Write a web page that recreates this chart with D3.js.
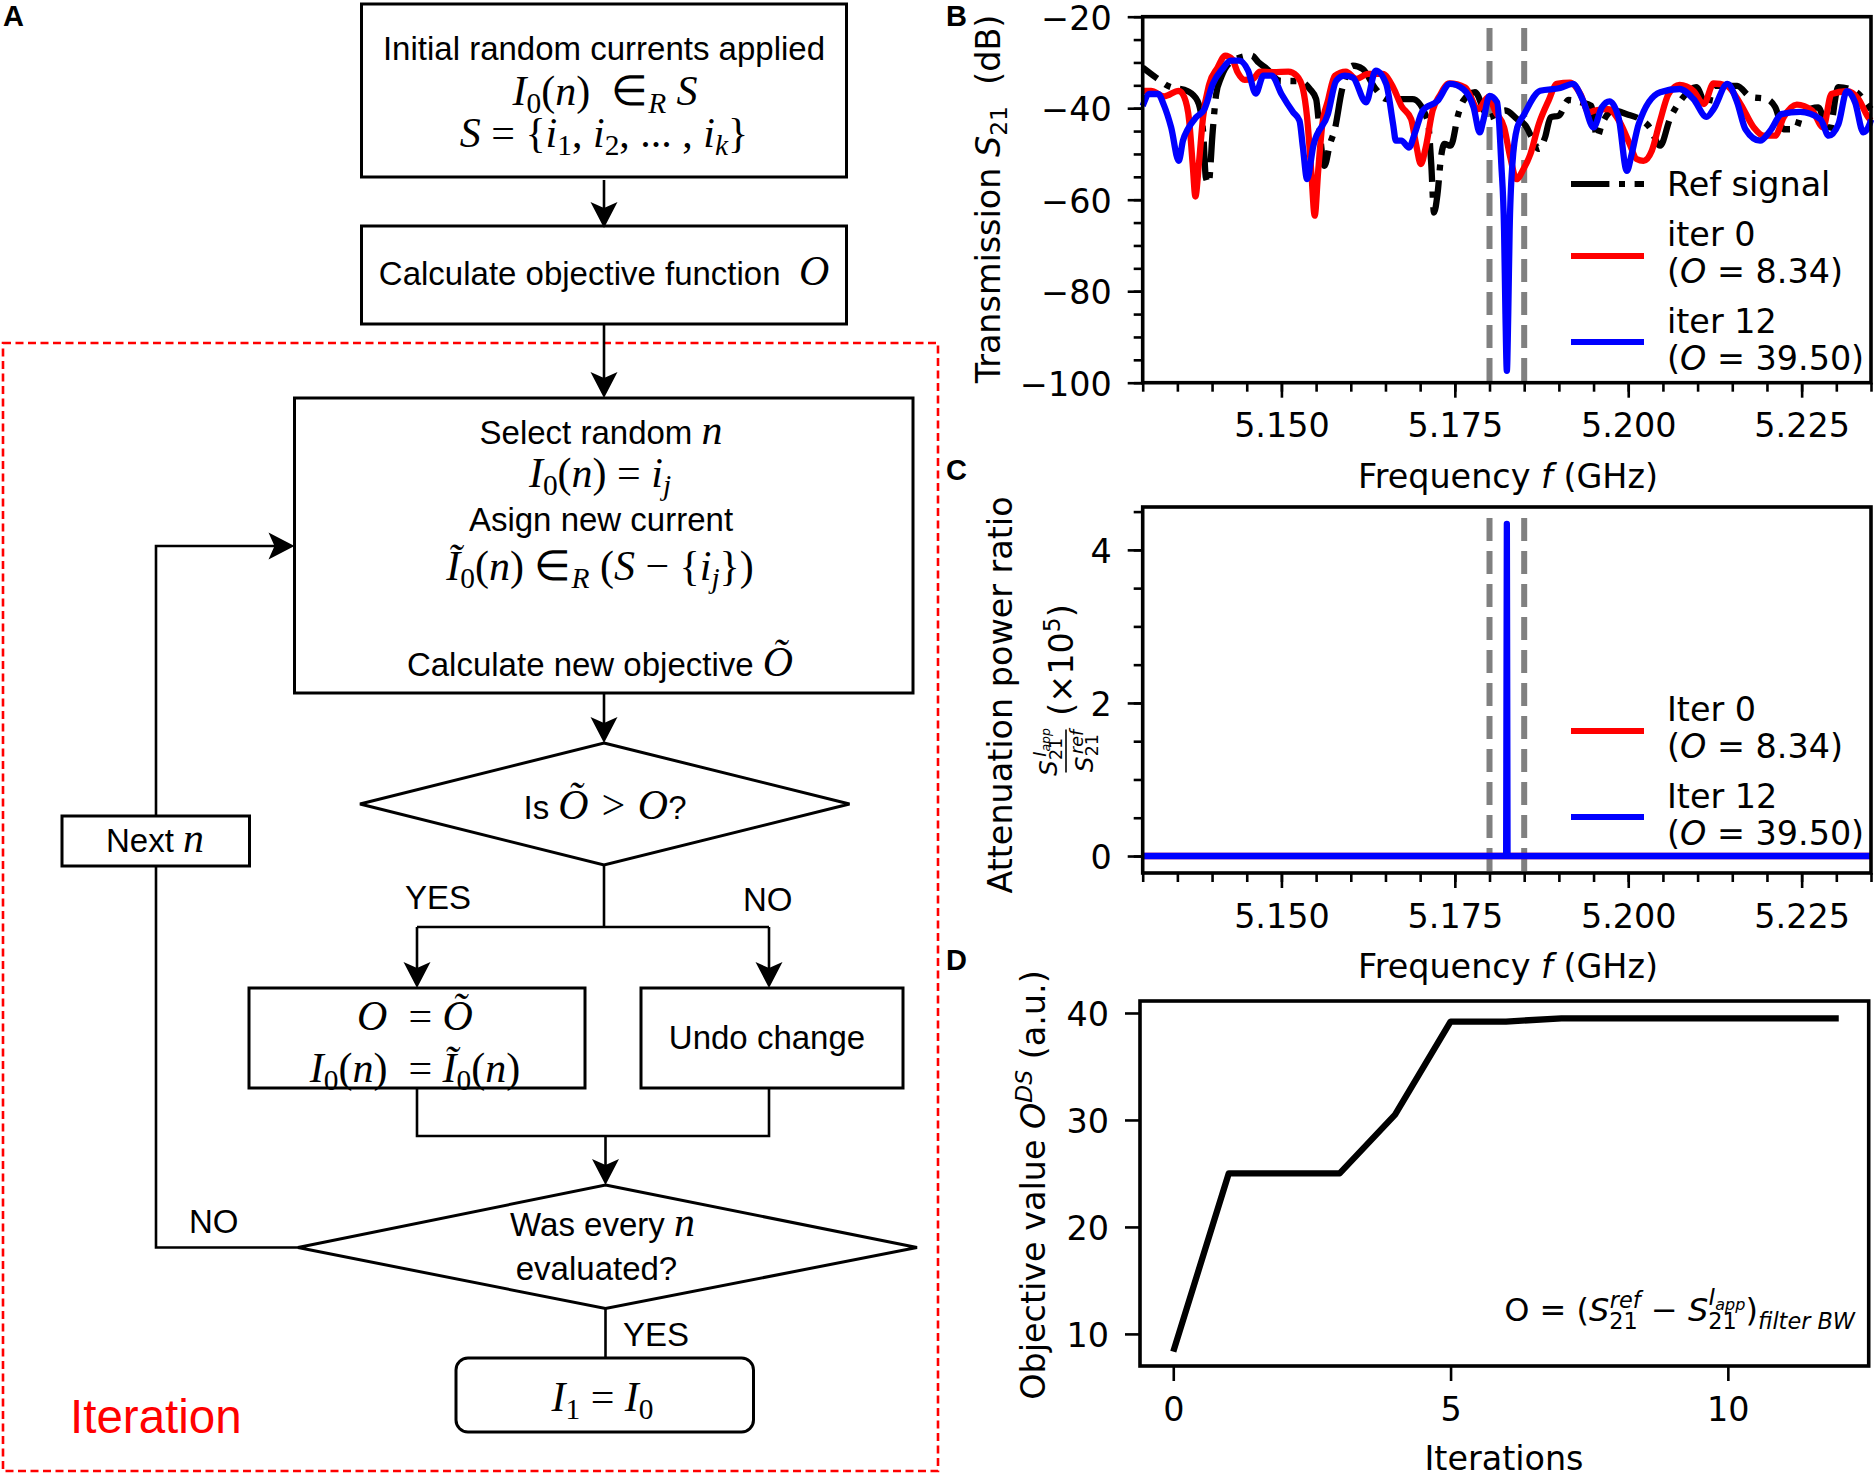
<!DOCTYPE html>
<html>
<head>
<meta charset="utf-8">
<script src="https://cdn.jsdelivr.net/npm/d3@7"></script>
<style>
body { margin: 0; background: #fff; }
text { white-space: pre; fill: #000; }
.axis path { display: none; }
.axis line { stroke: #000; stroke-width: 2.6; }
.axis text { font-family: "DejaVu Sans"; font-size: 33.4px; }
</style>
</head>
<body>
<div id="chart"></div>
<script>
// Panel B, transmission curves
var refFreq = [5.1300,5.1319,5.1336,5.1365,5.1379,5.1387,5.1391,5.1395,5.1401,5.1406,5.1413,5.1430,5.1457,5.1467,5.1479,5.1498,5.1526,5.1541,5.1550,5.1555,5.1562,5.1570,5.1577,5.1587,5.1603,5.1617,5.1636,5.1651,5.1689,5.1711,5.1716,5.1720,5.1725,5.1730,5.1735,5.1744,5.1755,5.1762,5.1779,5.1798,5.1823,5.1840,5.1852,5.1861,5.1871,5.1880,5.1888,5.1900,5.1914,5.1931,5.1947,5.1955,5.1962,5.1979,5.1998,5.2017,5.2031,5.2046,5.2060,5.2077,5.2098,5.2114,5.2123,5.2157,5.2176,5.2200,5.2212,5.2224,5.2241,5.2250,5.2274,5.2289,5.2303,5.2329,5.2346,5.2350];
var refDb = [-31.1,-33.3,-35.1,-36.3,-38.4,-44.9,-55.1,-56.4,-44.9,-36.9,-33.3,-29.6,-28.5,-30.0,-31.4,-34.0,-34.1,-35.8,-38.0,-44.9,-52.6,-47.8,-44.6,-36.2,-30.7,-31.4,-35.8,-38.0,-38.0,-42.7,-52.2,-62.8,-58.8,-50.8,-47.8,-48.2,-41.3,-38.4,-36.5,-42.0,-40.5,-42.4,-43.8,-46.4,-48.9,-46.4,-42.0,-41.6,-38.2,-38.7,-39.5,-46.4,-43.5,-40.5,-41.3,-42.4,-44.2,-48.2,-42.4,-38.0,-35.4,-39.8,-35.1,-35.1,-37.5,-38.0,-39.8,-44.6,-44.6,-41.3,-39.8,-45.6,-35.4,-36.5,-39.5,-40.2];

var iter0Freq = [5.1300,5.1312,5.1331,5.1352,5.1360,5.1367,5.1372,5.1376,5.1381,5.1387,5.1396,5.1408,5.1419,5.1429,5.1437,5.1447,5.1459,5.1469,5.1488,5.1510,5.1522,5.1531,5.1537,5.1543,5.1548,5.1553,5.1559,5.1567,5.1577,5.1593,5.1608,5.1625,5.1646,5.1661,5.1673,5.1687,5.1694,5.1701,5.1708,5.1718,5.1728,5.1742,5.1765,5.1784,5.1798,5.1809,5.1821,5.1830,5.1839,5.1849,5.1859,5.1871,5.1885,5.1897,5.1916,5.1931,5.1943,5.1952,5.1971,5.1988,5.2002,5.2012,5.2022,5.2034,5.2046,5.2058,5.2074,5.2094,5.2109,5.2123,5.2142,5.2162,5.2181,5.2195,5.2212,5.2224,5.2243,5.2265,5.2281,5.2293,5.2315,5.2332,5.2346,5.2350];
var iter0Db = [-36.2,-36.2,-37.4,-36.2,-37.6,-42.7,-52.2,-59.3,-52.2,-42.0,-34.7,-31.1,-28.5,-29.3,-32.2,-33.8,-33.6,-32.0,-32.1,-32.0,-32.9,-35.8,-42.0,-53.7,-63.5,-53.7,-43.5,-38.4,-32.9,-32.0,-33.6,-32.5,-32.5,-35.4,-39.5,-42.4,-47.8,-52.2,-48.6,-40.5,-37.3,-34.6,-35.5,-40.2,-37.6,-40.9,-44.2,-50.8,-55.5,-53.3,-50.0,-43.5,-38.4,-34.7,-34.4,-36.9,-40.9,-40.5,-40.2,-43.1,-47.8,-51.1,-51.5,-49.3,-42.7,-36.9,-34.9,-36.2,-39.1,-34.6,-35.1,-39.1,-44.2,-46.0,-46.0,-42.0,-39.2,-40.5,-44.2,-36.9,-36.3,-38.0,-42.0,-42.7];

var iter12Freq = [5.1300,5.1310,5.1322,5.1331,5.1341,5.1352,5.1358,5.1365,5.1377,5.1389,5.1401,5.1415,5.1427,5.1439,5.1452,5.1463,5.1474,5.1486,5.1500,5.1517,5.1526,5.1531,5.1537,5.1546,5.1567,5.1579,5.1591,5.1603,5.1622,5.1636,5.1651,5.1661,5.1665,5.1673,5.1684,5.1692,5.1704,5.1725,5.1743,5.1762,5.1777,5.1786,5.1791,5.1800,5.1811,5.1817,5.1821,5.1823,5.1825,5.1827,5.1829,5.1833,5.1840,5.1849,5.1873,5.1902,5.1920,5.1935,5.1950,5.1962,5.1973,5.1986,5.1998,5.2005,5.2015,5.2046,5.2074,5.2094,5.2113,5.2123,5.2143,5.2157,5.2169,5.2190,5.2205,5.2221,5.2248,5.2277,5.2289,5.2303,5.2315,5.2327,5.2339,5.2348,5.2350];
var iter12Db = [-39.5,-36.9,-36.9,-39.5,-44.2,-51.5,-47.1,-44.6,-42.0,-40.2,-34.7,-31.4,-29.6,-29.6,-31.8,-36.8,-32.9,-32.9,-36.9,-40.9,-42.7,-48.6,-55.5,-48.2,-41.3,-34.0,-32.9,-33.3,-38.7,-31.8,-34.7,-43.5,-47.1,-47.1,-48.6,-45.6,-40.5,-38.4,-34.7,-35.8,-39.8,-45.3,-42.7,-37.3,-38.7,-52.2,-66.8,-85.0,-97.4,-85.0,-66.8,-52.2,-44.2,-41.6,-36.2,-35.6,-34.7,-38.4,-44.2,-39.8,-38.5,-42.0,-53.7,-50.0,-43.5,-36.5,-35.8,-38.0,-41.9,-40.2,-34.7,-38.7,-44.6,-47.1,-44.9,-41.3,-40.8,-42.4,-46.0,-43.5,-36.3,-38.7,-45.3,-43.5,-42.5];

// Panel C, attenuation power ratio (x 10^5)
var ratioFreq = [5.13, 5.1824, 5.1825, 5.1826, 5.235];
var ratioIter0 = [0, 0, 0, 0, 0];
var ratioIter12 = [0, 0, 4.34, 0, 0];

// Panel D, objective per iteration
var iterations = [0,1,2,3,4,5,6,7,8,9,10,11,12];
var objective = [8.34,25,25,25,30.5,39.2,39.2,39.5,39.5,39.5,39.5,39.5,39.5];

// Filter band edges and axis ticks
var bandEdges = [5.18, 5.185];
var freqTicks = [5.15, 5.175, 5.2, 5.225];
var freqMinor = d3.range(5.13, 5.2351, 0.005);
var dbTicks = [-20, -40, -60, -80, -100];
var dbMinor = d3.range(-100, -19, 5);
var ratioTicks = [0, 2, 4];
var ratioMinor = d3.range(0, 4.6, 0.5);
var objTicks = [10, 20, 30, 40];
var iterTicks = [0, 5, 10];

var svg = d3.select("#chart").append("svg")
  .attr("width", 1876)
  .attr("height", 1473);

var flow = svg.append("g");
var SANS = '"Liberation Sans"', SERIF = '"Liberation Serif"', DEJAVU = '"DejaVu Sans"';

// small baseline corrections so text sits where it does in the picture
function nudge(g, family) {
  if (g === flow) return family === SERIF ? 2 : 1;
  if (g === svg && family === DEJAVU) return 1;
  return 0;
}

// text made of pieces: b = baseline shift, s = size factor, i = italic
function rich(g, x, y, anchor, size, family, parts) {
  var t = g.append("text").attr("x", x).attr("y", y + nudge(g, family))
    .attr("text-anchor", anchor)
    .style("font-family", family)
    .style("font-size", size + "px");
  var cur = 0;
  parts.forEach(function(p) {
    var b = p.b || 0;
    var ts = t.append("tspan").text(p.t)
      .attr("dy", b - cur)
      .style("font-size", size * (p.s || 1) + "px")
      .style("font-style", p.i ? "italic" : "normal");
    if (p.dx) ts.attr("dx", p.dx);
    if (p.f) ts.style("font-family", p.f);
    cur = b;
  });
  return t;
}

function plain(g, x, y, anchor, size, family, str) {
  return rich(g, x, y, anchor, size, family, [{t: str}]);
}

/* ---------- flow chart, panel A ---------- */
var M = 42; // math size
var T = 33; // text size
var MS = 1.27; // math inside text lines

function box(x0, y0, x1, y1, rx) {
  flow.append("rect").attr("x", x0).attr("y", y0)
    .attr("width", x1 - x0).attr("height", y1 - y0).attr("rx", rx || 0)
    .attr("fill", "none").attr("stroke", "#000").attr("stroke-width", 3);
}

function diamond(cx, top, bottom, left, right, cy) {
  flow.append("polygon")
    .attr("points", [[cx, top], [right, cy], [cx, bottom], [left, cy]].join(" "))
    .attr("fill", "none").attr("stroke", "#000").attr("stroke-width", 3);
}

function wire(points) {
  flow.append("path").attr("d", d3.line()(points))
    .attr("fill", "none").attr("stroke", "#000").attr("stroke-width", 2.6);
}

function arrow(points) {
  var n = points.length, a = points[n - 2], b = points[n - 1];
  var ang = Math.atan2(b[1] - a[1], b[0] - a[0]);
  var shaft = points.slice(0, n - 1).concat([[b[0] - 10 * Math.cos(ang), b[1] - 10 * Math.sin(ang)]]);
  wire(shaft);
  flow.append("path")
    .attr("d", "M0,0L-26,-13.5L-20,0L-26,13.5Z")
    .attr("transform", "translate(" + b[0] + "," + b[1] + ") rotate(" + ang * 180 / Math.PI + ")");
}

// iteration frame
flow.append("rect").attr("x", 3).attr("y", 343).attr("width", 935).attr("height", 1128)
  .attr("fill", "none").attr("stroke", "#f00").attr("stroke-width", 2.6)
  .attr("stroke-dasharray", "8,4.5");

box(361.5, 4, 846.5, 177);
box(361.5, 226, 846.5, 324);
box(294.5, 398, 913, 693);
box(62, 816, 249.5, 866);
box(249, 988, 585, 1088);
box(641, 988, 903, 1088);
box(456, 1358, 753.5, 1432, 12);
diamond(604, 743, 865, 360, 849.5, 804);
diamond(605.5, 1185, 1308.5, 298, 917, 1247.5);

arrow([[604, 180], [604, 228]]);
arrow([[604, 324], [604, 398]]);
arrow([[604, 693], [604, 743]]);
wire([[604, 865], [604, 927]]);
wire([[417, 927], [769, 927]]);
arrow([[417, 927], [417, 988]]);
arrow([[769, 927], [769, 988]]);
wire([[417, 1088], [417, 1136], [769, 1136], [769, 1088]]);
arrow([[605.5, 1136], [605.5, 1185]]);
wire([[605.5, 1308.5], [605.5, 1358]]);
arrow([[156, 816], [156, 546], [294.5, 546]]);
wire([[156, 866], [156, 1247.5], [298, 1247.5]]);

plain(flow, 604, 59, "middle", T, SANS, "Initial random currents applied");
rich(flow, 605, 103, "middle", M, SERIF, [
  {t: "I", i: 1}, {t: "0", s: 0.7, b: 8}, {t: "("}, {t: "n", i: 1}, {t: ")  ∈"},
  {t: "R", i: 1, s: 0.7, b: 8}, {t: " "}, {t: "S", i: 1}]);
rich(flow, 604, 145, "middle", M, SERIF, [
  {t: "S", i: 1}, {t: " = {"}, {t: "i", i: 1}, {t: "1", s: 0.7, b: 8}, {t: ", "},
  {t: "i", i: 1}, {t: "2", s: 0.7, b: 8}, {t: ", ... , "}, {t: "i", i: 1},
  {t: "k", i: 1, s: 0.7, b: 8}, {t: "}"}]);
rich(flow, 604, 284, "middle", T, SANS, [{t: "Calculate objective function  "}, {t: "O", i: 1, f: SERIF, s: MS}]);

rich(flow, 601, 443, "middle", T, SANS, [{t: "Select random "}, {t: "n", i: 1, f: SERIF, s: MS}]);
rich(flow, 600, 485, "middle", M, SERIF, [
  {t: "I", i: 1}, {t: "0", s: 0.7, b: 8}, {t: "("}, {t: "n", i: 1}, {t: ") = "},
  {t: "i", i: 1}, {t: "j", i: 1, s: 0.7, b: 8}]);
plain(flow, 601, 530, "middle", T, SANS, "Asign new current");
rich(flow, 600, 578, "middle", M, SERIF, [
  {t: "Ĩ", i: 1}, {t: "0", s: 0.7, b: 8}, {t: "("}, {t: "n", i: 1}, {t: ") ∈"},
  {t: "R", i: 1, s: 0.7, b: 8}, {t: " ("}, {t: "S", i: 1}, {t: " − {"}, {t: "i", i: 1},
  {t: "j", i: 1, s: 0.7, b: 8}, {t: "})"}]);
rich(flow, 600, 675, "middle", T, SANS, [{t: "Calculate new objective "}, {t: "Õ", i: 1, f: SERIF, s: MS}]);

rich(flow, 605, 818, "middle", T, SANS, [{t: "Is "}, {t: "Õ > O", i: 1, f: SERIF, s: MS}, {t: "?"}]);
rich(flow, 155, 851, "middle", T, SANS, [{t: "Next "}, {t: "n", i: 1, f: SERIF, s: MS}]);
plain(flow, 405, 908, "start", T, SANS, "YES");
plain(flow, 743, 910, "start", T, SANS, "NO");
rich(flow, 415, 1028, "middle", M, SERIF, [{t: "O", i: 1}, {t: "  = "}, {t: "Õ", i: 1}]);
rich(flow, 415, 1079.5, "middle", M, SERIF, [
  {t: "I", i: 1}, {t: "0", s: 0.7, b: 8}, {t: "("}, {t: "n", i: 1}, {t: ")  = "},
  {t: "Ĩ", i: 1}, {t: "0", s: 0.7, b: 8}, {t: "("}, {t: "n", i: 1}, {t: ")"}]);
plain(flow, 767, 1048, "middle", T, SANS, "Undo change");
plain(flow, 189, 1231.5, "start", T, SANS, "NO");
rich(flow, 602.5, 1234.5, "middle", T, SANS, [{t: "Was every "}, {t: "n", i: 1, f: SERIF, s: MS}]);
plain(flow, 596.5, 1278.5, "middle", T, SANS, "evaluated?");
plain(flow, 623, 1345, "start", T, SANS, "YES");
rich(flow, 602.5, 1408.5, "middle", M, SERIF, [
  {t: "I", i: 1}, {t: "1", s: 0.7, b: 8}, {t: " = "}, {t: "I", i: 1}, {t: "0", s: 0.7, b: 8}]);
plain(flow, 70, 1432, "start", 47.5, SANS, "Iteration").style("fill", "#f00");

// panel letters
[["A", 3, 26], ["B", 946, 26], ["C", 946, 480], ["D", 946, 970]].forEach(function(l) {
  plain(svg, l[1], l[2], "start", 29, SANS, l[0]).style("font-weight", "bold");
});

/* ---------- plots ---------- */
var FS = 33.4;

function frame(x0, y0, x1, y1) {
  svg.append("rect").attr("x", x0).attr("y", y0)
    .attr("width", x1 - x0).attr("height", y1 - y0)
    .attr("fill", "none").attr("stroke", "#000").attr("stroke-width", 3.6);
}

function xAxis(scale, y, ticks, minor, fmt) {
  if (minor) {
    var m = svg.append("g").attr("class", "axis")
      .attr("transform", "translate(0," + y + ")")
      .call(d3.axisBottom(scale).tickValues(minor).tickSize(9));
    m.selectAll("text").remove();
  }
  svg.append("g").attr("class", "axis")
    .attr("transform", "translate(0," + y + ")")
    .call(d3.axisBottom(scale).tickValues(ticks).tickSize(15).tickPadding(16).tickFormat(fmt));
}

function yAxis(scale, x, ticks, minor) {
  if (minor) {
    var m = svg.append("g").attr("class", "axis")
      .attr("transform", "translate(" + x + ",0)")
      .call(d3.axisLeft(scale).tickValues(minor).tickSize(9));
    m.selectAll("text").remove();
  }
  svg.append("g").attr("class", "axis")
    .attr("transform", "translate(" + x + ",0)")
    .call(d3.axisLeft(scale).tickValues(ticks).tickSize(15).tickPadding(16).tickFormat(d3.format("d")))
    .selectAll("text").attr("dy", "0.37em");
}

function series(xs, ys, xScale, yScale, color, curve, dash) {
  var line = d3.line()
    .x(function(d, i) { return xScale(xs[i]); })
    .y(function(d) { return yScale(d); })
    .curve(curve);
  svg.append("path").datum(ys)
    .attr("d", line)
    .attr("fill", "none").attr("stroke", color).attr("stroke-width", 6.3)
    .attr("stroke-linejoin", "round")
    .attr("stroke-dasharray", dash || null)
    .attr("stroke-dashoffset", dash ? 20 : null);
}

function bandLines(xScale, y0, y1) {
  bandEdges.forEach(function(f) {
    svg.append("line")
      .attr("x1", xScale(f)).attr("x2", xScale(f))
      .attr("y1", y0).attr("y2", y1)
      .attr("stroke", "#808080").attr("stroke-width", 6)
      .attr("stroke-dasharray", "23,10");
  });
}

function legendRow(y, color, dash) {
  svg.append("line").attr("x1", 1571).attr("x2", 1644).attr("y1", y).attr("y2", y)
    .attr("stroke", color).attr("stroke-width", 6)
    .attr("stroke-dasharray", dash || null);
}

function labelO(y, str) {
  rich(svg, 1667, y, "start", FS, DEJAVU, [{t: "("}, {t: "O", i: 1}, {t: " = " + str + ")"}]);
}

var fmtFreq = d3.format(".3f");
var REF_DASH = "38.4,9.6,6,9.6";

// Panel B
var xB = d3.scaleLinear().domain([5.13, 5.235]).range([1142.7, 1871]);
var yB = d3.scaleLinear().domain([-100, -20]).range([382.7, 16.7]);
yAxis(yB, 1142.7, dbTicks, dbMinor);
xAxis(xB, 382.7, freqTicks, freqMinor, fmtFreq);
bandLines(xB, 28, 382.7);
series(refFreq, refDb, xB, yB, "#000", d3.curveMonotoneX, REF_DASH);
series(iter0Freq, iter0Db, xB, yB, "#f00", d3.curveMonotoneX);
series(iter12Freq, iter12Db, xB, yB, "#00f", d3.curveMonotoneX);
frame(1142.7, 16.7, 1871, 382.7);
legendRow(184, "#000", REF_DASH);
legendRow(256, "#f00");
legendRow(342, "#00f");
plain(svg, 1667, 195, "start", FS, DEJAVU, "Ref signal");
plain(svg, 1667, 245, "start", FS, DEJAVU, "iter 0");
labelO(282, "8.34");
plain(svg, 1667, 332, "start", FS, DEJAVU, "iter 12");
labelO(369, "39.50");
rich(svg, 1508, 487, "middle", FS, DEJAVU, [{t: "Frequency "}, {t: "f", i: 1}, {t: " (GHz)"}]);
rich(svg.append("g").attr("transform", "translate(1000,199) rotate(-90)"), 0, 0, "middle", FS, DEJAVU, [
  {t: "Transmission "}, {t: "S", i: 1}, {t: "21", s: 0.7, b: 7}, {t: "  (dB)"}]);

// Panel C
var xC = d3.scaleLinear().domain([5.13, 5.235]).range([1142.7, 1871]);
var yC = d3.scaleLinear().domain([-0.222, 4.56]).range([873, 507]);
yAxis(yC, 1142.7, ratioTicks, ratioMinor);
xAxis(xC, 873, freqTicks, freqMinor, fmtFreq);
bandLines(xC, 518, 873);
series(ratioFreq, ratioIter0, xC, yC, "#f00", d3.curveLinear);
series(ratioFreq, ratioIter12, xC, yC, "#00f", d3.curveLinear);
frame(1142.7, 507, 1871, 873);
legendRow(731, "#f00");
legendRow(817, "#00f");
plain(svg, 1667, 720, "start", FS, DEJAVU, "Iter 0");
labelO(757, "8.34");
plain(svg, 1667, 807, "start", FS, DEJAVU, "Iter 12");
labelO(844, "39.50");
rich(svg, 1508, 977, "middle", FS, DEJAVU, [{t: "Frequency "}, {t: "f", i: 1}, {t: " (GHz)"}]);
plain(svg.append("g").attr("transform", "translate(1012,695) rotate(-90)"), 0, 0, "middle", FS, DEJAVU, "Attenuation power ratio");
rich(svg.append("g").attr("transform", "translate(1073,660) rotate(-90)"), 0, 0, "middle", FS, DEJAVU, [
  {t: "("}, {t: "×10"}, {t: "5", s: 0.7, b: -13}, {t: ")"}]);
var frac = svg.append("g").attr("transform", "translate(1066,751) rotate(-90)");
frac.append("line").attr("x1", -21.5).attr("x2", 21.5).attr("stroke", "#000").attr("stroke-width", 1.6);
rich(frac, -1, -9, "middle", 25, DEJAVU, [
  {t: "S", i: 1}, {t: "21", s: 0.7, b: 5}, {t: "I", i: 1, s: 0.7, b: -11, dx: -19}, {t: "app", i: 1, s: 0.5, b: -7}]);
rich(frac, 0, 27, "middle", 25, DEJAVU, [
  {t: "S", i: 1}, {t: "21", s: 0.7, b: 5}, {t: "ref", i: 1, s: 0.7, b: -10, dx: -20}]);

// Panel D
var xD = d3.scaleLinear().domain([-0.6, 12.54]).range([1140, 1868.7]);
var yD = d3.scaleLinear().domain([7.0, 41.12]).range([1366, 1001]);
yAxis(yD, 1140, objTicks);
xAxis(xD, 1366, iterTicks, null, d3.format("d"));
series(iterations, objective, xD, yD, "#000", d3.curveLinear);
frame(1140, 1001, 1868.7, 1366);
plain(svg, 1504, 1469, "middle", FS, DEJAVU, "Iterations");
rich(svg.append("g").attr("transform", "translate(1045,1185) rotate(-90)"), 0, 0, "middle", FS, DEJAVU, [
  {t: "Objective value "}, {t: "O", i: 1}, {t: "DS", i: 1, s: 0.7, b: -13}, {t: " (a.u.)"}]);
rich(svg, 1855, 1320, "end", 32, DEJAVU, [
  {t: "O = ("}, {t: "S", i: 1}, {t: "21", s: 0.7, b: 8},
  {t: "ref", i: 1, s: 0.7, b: -13, dx: -28}, {t: " − "},
  {t: "S", i: 1}, {t: "21", s: 0.7, b: 8},
  {t: "I", i: 1, s: 0.7, b: -16, dx: -28}, {t: "app", i: 1, s: 0.5, b: -11},
  {t: ")"}, {t: "filter BW", i: 1, s: 0.7, b: 8}]);
</script>
</body>
</html>
